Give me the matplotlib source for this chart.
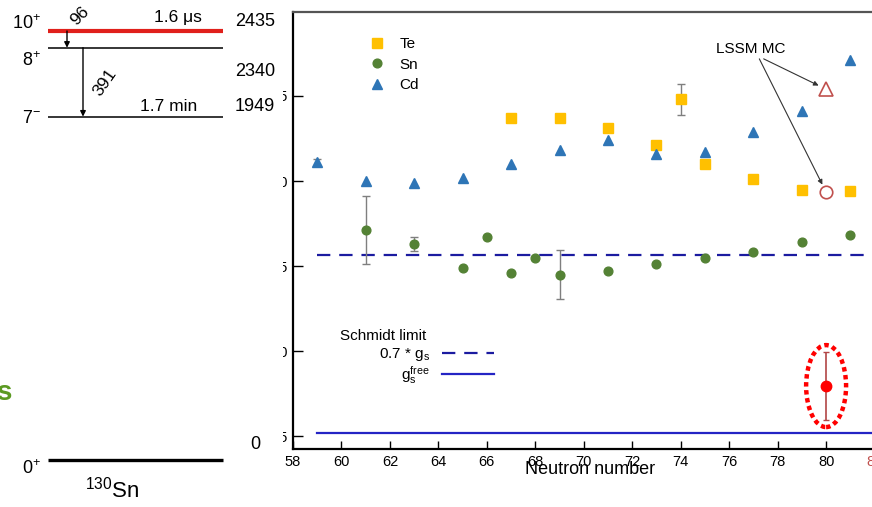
import matplotlib
matplotlib.use("Agg")
import matplotlib.pyplot as plt
from matplotlib.patches import Ellipse
from matplotlib.lines import Line2D

plt.rcParams['font.family'] = ['Liberation Sans', 'DejaVu Sans']
plt.rcParams['mathtext.fontset'] = 'custom'
plt.rcParams['mathtext.rm'] = 'Liberation Sans'
plt.rcParams['mathtext.it'] = 'Liberation Sans:italic'
plt.rcParams['mathtext.bf'] = 'Liberation Sans:bold'

# ---------------- data: g-factors of 10+ states ----------------
te_n = [67, 69, 71, 73, 74, 75, 77, 79, 81]
te_g = [-0.163, -0.163, -0.169, -0.179, -0.152, -0.190, -0.199, -0.205, -0.206]
te_err = [0, 0, 0, 0, 0.009, 0, 0, 0, 0]

sn_n = [61, 63, 65, 66, 67, 68, 69, 71, 73, 75, 77, 79, 81]
sn_g = [-0.229, -0.237, -0.251, -0.233, -0.254, -0.245, -0.255, -0.253,
        -0.249, -0.245, -0.242, -0.236, -0.232]
sn_err = [0.020, 0.004, 0, 0, 0, 0, 0.0145, 0, 0, 0, 0, 0, 0]

cd_n = [59, 61, 63, 65, 67, 69, 71, 73, 75, 77, 79, 81]
cd_g = [-0.189, -0.200, -0.201, -0.198, -0.190, -0.182, -0.176, -0.184,
        -0.183, -0.171, -0.159, -0.129]
cd_err = [0.002, 0, 0, 0, 0, 0, 0, 0, 0, 0, 0, 0]

new_n = [80]
new_g = [-0.3206]
new_err = [0.020]

lssm_n = [80]
lssm_tri_g = [-0.146]
lssm_circ_g = [-0.2065]

schmidt_quenched = -0.2435   # 0.7 * g_s free
schmidt_free = -0.348        # g_s free
schmidt_start = 59

xtick_values = [58, 60, 62, 64, 66, 68, 70, 72, 74, 76, 78, 80, 82]
ytick_values = [-0.35, -0.30, -0.25, -0.20, -0.15]
ytick_labels = ['-0.35', '-0.30', '-0.25', '-0.20', '-0.15']

# level scheme of 130Sn
level_spin = ['10', '8', '7', '0']
level_parity = ['+', '+', '-', '+']
level_energy = [2435, 2340, 1949, 0]
level_energy_label = ['2435', '2340', '1949', '0']
level_halflife = ['1.6 μs', '', '1.7 min', '']
gamma_energy = ['96', '391']
gamma_from = [2435, 2340]
gamma_to = [2340, 1949]

# ---------------- figure ----------------
W, H = 872, 507
fig = plt.figure(figsize=(W / 100, H / 100), dpi=100)

ax = fig.add_axes([293 / W, 58 / H, 605.8 / W, 437 / H], zorder=1)
ax.set_xlim(58, 83)
ax.set_ylim(-0.3576, -0.1006)

# Schmidt lines
ax.plot([schmidt_start, 83.5], [schmidt_quenched] * 2, color='#1B1BA0',
        lw=1.6, dashes=(6, 4), zorder=2)
ax.plot([schmidt_start, 83.5], [schmidt_free] * 2, color='#2424C4',
        lw=1.6, zorder=2)

def errs(n, g, e):
    idx = [i for i, v in enumerate(e) if v > 0]
    return [n[i] for i in idx], [g[i] for i in idx], [e[i] for i in idx]

for n, g, e in [(te_n, te_g, te_err), (sn_n, sn_g, sn_err), (cd_n, cd_g, cd_err)]:
    en, eg, ee = errs(n, g, e)
    ax.errorbar(en, eg, yerr=ee, fmt='none', ecolor='#7F7F7F', elinewidth=1,
                capsize=3, capthick=1, zorder=3)

h_te, = ax.plot(te_n, te_g, 's', color='#FFC000', ms=6.5, ls='none', zorder=4, label='Te')
h_sn, = ax.plot(sn_n, sn_g, 'o', color='#548235', ms=6.3, ls='none', zorder=4, label='Sn')
h_cd, = ax.plot(cd_n, cd_g, '^', color='#2E75B6', ms=7, ls='none', zorder=4, label='Cd')

ax.errorbar(new_n, new_g, yerr=new_err, fmt='o', color='#FF0000', ms=7.5,
            ecolor='#B24545', elinewidth=1.2, capsize=2.5, capthick=1, zorder=5)

ax.plot(lssm_n, lssm_tri_g, '^', mfc='none', mec='#C0504D', ms=9.5, mew=1.2, zorder=5)
ax.plot(lssm_n, lssm_circ_g, 'o', mfc='none', mec='#C0504D', ms=9, mew=1.2, zorder=5)

ell = Ellipse((new_n[0], new_g[0]), width=1.65, height=0.0482, fill=False,
              edgecolor='#FF0000', lw=3.2, linestyle=(0, (1, 0.8)), zorder=6)
ax.add_patch(ell)

txt_xy = (76.9, -0.1224)
arrow_kw = dict(arrowstyle='-|>', color='#333333', lw=0.8, mutation_scale=7,
                shrinkA=0, shrinkB=6, relpos=(0.6, 0.0))
ax.annotate('LSSM MC', xy=(lssm_n[0], lssm_tri_g[0]), xytext=txt_xy,
            ha='center', va='center', fontsize=11, arrowprops=arrow_kw, zorder=7)
ax.annotate('LSSM MC', xy=(lssm_n[0], lssm_circ_g[0]), xytext=txt_xy,
            ha='center', va='center', fontsize=11, color='none',
            arrowprops=arrow_kw, zorder=7)

# axes styling
for s in ['left', 'bottom']:
    ax.spines[s].set_linewidth(1.6)
    ax.spines[s].set_color('black')
ax.spines['top'].set_linewidth(1.6)
ax.spines['top'].set_color('#555555')
ax.spines['right'].set_visible(False)

ax.set_xticks(xtick_values)
ax.set_xticklabels([str(v) for v in xtick_values])
ax.get_xticklabels()[-1].set_color('#C0504D')
ax.set_yticks(ytick_values)
ax.set_yticklabels(ytick_labels)
ax.tick_params(axis='x', direction='in', length=6, width=1, labelsize=10.5, pad=4)
ax.tick_params(axis='y', direction='in', length=7, width=1, labelsize=10.5, pad=4)

ax.set_xlabel('Neutron number', fontsize=13)
ax.xaxis.set_label_coords((590 - 293) / 605.8, (449 - 470) / 437)
ax.xaxis.label.set_va('center')

leg1 = ax.legend(handles=[h_te, h_sn, h_cd], loc='upper left',
                 bbox_to_anchor=((363 - 293) / 605.8, (449 - 31) / 437),
                 borderaxespad=0, frameon=False, fontsize=11, handlelength=1.0,
                 handletextpad=1.0, labelspacing=0.42, borderpad=0.4)
ax.add_artist(leg1)

sch_handles = [Line2D([], [], color='#1B1BA0', lw=1.6, dashes=(6, 4)),
               Line2D([], [], color='#2424C4', lw=1.6)]
ax.legend(handles=sch_handles, labels=[r'0.7 * g$_{\mathregular{s}}$',
                                       r'g$_{\mathregular{s}}^{\mathregular{free}}$'],
          loc='upper right', bbox_to_anchor=((500 - 293) / 605.8, (449 - 340) / 437),
          borderaxespad=0, frameon=False, fontsize=11, markerfirst=False,
          handlelength=3.4, handletextpad=0.8, labelspacing=0.05, borderpad=0.4)
ax.text((340 - 293) / 605.8, (449 - 336) / 437, 'Schmidt limit', transform=ax.transAxes,
        ha='left', va='center', fontsize=11)

# ---------------- level scheme ----------------
ax0 = fig.add_axes([0, 0, 283 / W, 1], zorder=3)
ax0.set_facecolor('white')
k = 0.17618  # px per keV
E = lambda py: 2435 - (py - 31) / k
ax0.set_xlim(0, 283)
ax0.set_ylim(E(507), E(0))
ax0.set_xticks([])
ax0.set_yticks([])
for s in ax0.spines.values():
    s.set_visible(False)

lvl_color = ['#E0201B', 'black', 'black', 'black']
lvl_lw = [3.0, 1.1, 1.1, 2.4]
spin_dy = [5, -9, -1.5, -6]
elab_dy = [6.5, -17, 7, 11]
hl_x = [178, 0, 169, 0]
hl_dy = [10, 0, 7, 0]
for i, en in enumerate(level_energy):
    ax0.plot([48, 223], [en, en], color=lvl_color[i], lw=lvl_lw[i], solid_capstyle='butt')
    ax0.annotate(r'$\mathregular{%s^{%s}}$' % (level_spin[i], level_parity[i]),
                 xy=(41, en), xytext=(0, spin_dy[i]), textcoords='offset points',
                 ha='right', va='center', fontsize=13)
    ax0.annotate(level_energy_label[i], xy=(255, en), xytext=(0, elab_dy[i]),
                 textcoords='offset points', ha='center', va='center', fontsize=13)
    if level_halflife[i]:
        ax0.annotate(level_halflife[i], xy=(hl_x[i], en), xytext=(0, hl_dy[i]),
                     textcoords='offset points', ha='center', va='center', fontsize=12.5)

g_x = [67, 83]
g_lab_off = [(9.5, 17), (16, 0)]
g_rot = [45, 55]
for i in range(len(gamma_energy)):
    ax0.annotate('', xy=(g_x[i], gamma_to[i]), xytext=(g_x[i], gamma_from[i]),
                 arrowprops=dict(arrowstyle='-|>', color='black', lw=1.0,
                                 mutation_scale=8, shrinkA=0, shrinkB=0))
    mid = (gamma_from[i] + gamma_to[i]) / 2
    ax0.annotate(gamma_energy[i], xy=(g_x[i], mid), xytext=g_lab_off[i],
                 textcoords='offset points', ha='center', va='center',
                 rotation=g_rot[i], fontsize=12.5)

ax0.text(112, E(490), r'$^{130}$Sn', ha='center', va='center', fontsize=16)
ax0.text(11, E(393), 's', ha='right', va='center', fontsize=20,
         fontweight='bold', color='#5B9A22')

fig.savefig('out.png', dpi=100)
